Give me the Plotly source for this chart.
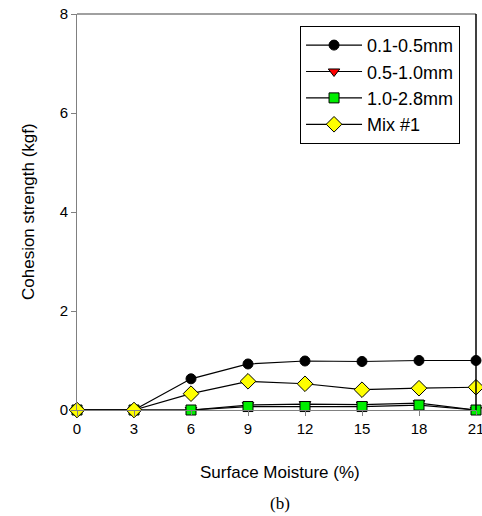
import plotly.graph_objects as go

moisture = [0, 3, 6, 9, 12, 15, 18, 21]
s_01_05 = [0, 0, 0.63, 0.93, 0.99, 0.98, 1.00, 1.00]
s_05_10 = [0, 0, 0.0, 0.10, 0.12, 0.11, 0.14, 0.0]
s_10_28 = [0, 0, 0.0, 0.07, 0.07, 0.07, 0.10, 0.0]
s_mix1 = [0, 0, 0.33, 0.58, 0.53, 0.41, 0.44, 0.46]
names = ["0.1-0.5mm", "0.5-1.0mm", "1.0-2.8mm", "Mix #1"]
x_ticks = [0, 3, 6, 9, 12, 15, 18, 21]
y_ticks = [0, 2, 4, 6, 8]

FONT = "Liberation Sans, Arial, sans-serif"

fig = go.Figure()
specs = [
    (s_01_05, names[0], "circle", "black", 10),
    (s_05_10, names[1], "triangle-down", "red", 10),
    (s_10_28, names[2], "square", "#00ee00", 10),
    (s_mix1, names[3], "diamond", "yellow", 12),
]
for i, (ys, nm, sym, col, sz) in enumerate(specs):
    fig.add_trace(go.Scatter(
        x=moisture, y=ys, name=nm, mode="lines+markers",
        line=dict(color="black", width=1.2),
        marker=dict(symbol=sym, color=col, size=sz,
                    line=dict(color="black", width=1)),
        cliponaxis=False,
    ))

fig.update_layout(
    width=482, height=516,
    margin=dict(l=77, r=6, t=14, b=106, autoexpand=False),
    paper_bgcolor="white", plot_bgcolor="white",
    font=dict(family=FONT, size=15, color="black"),
    showlegend=True,
    legend=dict(x=0.559, y=0.97, xanchor="left", yanchor="top",
                bordercolor="black", borderwidth=1, bgcolor="white",
                font=dict(family=FONT, size=18, color="black"),
                itemwidth=56),
    xaxis=dict(range=[0, 21], tickvals=x_ticks, ticktext=[str(v) for v in x_ticks],
               showgrid=False, zeroline=False, showline=True, linecolor="#808080",
               linewidth=1, ticks="outside", ticklen=5, automargin=False,
               ticklabeloverflow="allow",
               tickcolor="#808080", tickfont=dict(size=15)),
    yaxis=dict(range=[0, 8], tickvals=y_ticks, ticktext=[str(v) for v in y_ticks],
               showgrid=False, zeroline=False, showline=True, linecolor="#808080",
               linewidth=1, ticks="outside", ticklen=5, automargin=False,
               ticklabeloverflow="allow",
               tickcolor="#808080", tickfont=dict(size=15)),
)

# top spine (gray) and right spine (black)
fig.add_shape(type="line", xref="paper", yref="paper", x0=0, x1=1, y0=1, y1=1,
              line=dict(color="#808080", width=1.5))
fig.add_shape(type="line", xref="paper", yref="paper", x0=1, x1=1, y0=0, y1=1,
              line=dict(color="black", width=1.5))

fig.add_annotation(text="Surface Moisture (%)", xref="paper", yref="paper",
                   x=0.51, y=0, yshift=-62, xanchor="center", yanchor="middle",
                   showarrow=False, font=dict(size=17))
fig.add_annotation(text="Cohesion strength (kgf)", xref="paper", yref="paper",
                   x=0, y=0.5, xshift=-49, xanchor="center", yanchor="middle",
                   textangle=-90, showarrow=False, font=dict(size=17))
fig.add_annotation(text="(b)", xref="paper", yref="paper", x=0.51, y=0, yshift=-93,
                   xanchor="center", yanchor="middle", showarrow=False,
                   font=dict(family="Liberation Serif, Times New Roman, serif", size=17))

fig.write_html("out.html",
               config={"displayModeBar": False},
               post_script="document.body.style.margin='0';")
